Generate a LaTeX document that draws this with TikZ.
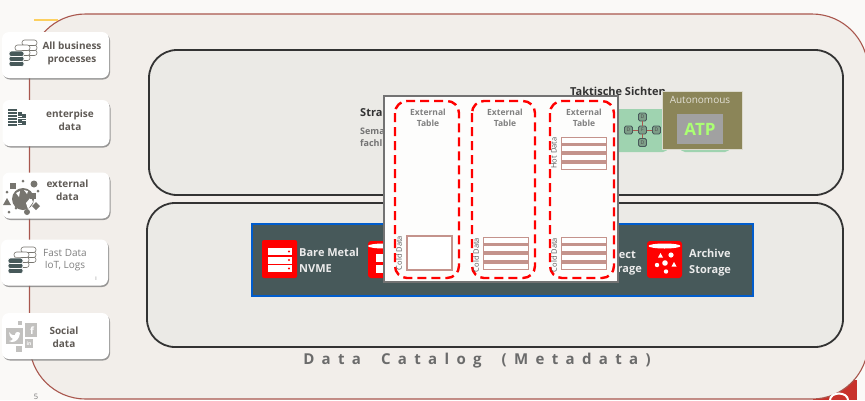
\documentclass[tikz,border=0pt]{standalone}
\usepackage{xcolor}
\usepackage{fontspec}
\setmainfont{Open Sans}
\newfontfamily\catalogfont[LetterSpace=49]{Open Sans}
\usetikzlibrary{shadows}
\definecolor{pageBg}{HTML}{FAF9F7}
\definecolor{frameBg}{HTML}{F2EEEA}
\definecolor{frameLine}{HTML}{A9574E}
\definecolor{panelBg}{HTML}{EBEAE6}
\definecolor{slate}{HTML}{47595A}
\definecolor{stackLine}{HTML}{C4938C}
\definecolor{cardText}{HTML}{5F5A55}
\definecolor{iconGray}{HTML}{77756F}
\definecolor{socialGray}{HTML}{C2C1BF}
\definecolor{dimGreen}{HTML}{9FD3B0}
\definecolor{olive}{HTML}{8B8558}
\definecolor{logoRed}{HTML}{C8322B}
\definecolor{barYellow}{HTML}{FCD060}
% one database icon, three cylinders back to front
\newcommand{\dbcyl}[4]{
  \foreach \k in {2,1,0}
    \draw[fill=#3, draw=#4, line width=.6pt, rounded corners=2.5pt]
      (#1,#2+\k*5) rectangle ++(15,5.5);
}
\newcommand{\dbicon}[2]{
  \dbcyl{#1+13}{#2-11}{white}{iconGray}
  \dbcyl{#1+6}{#2-6}{white}{iconGray}
  \dbcyl{#1}{#2}{slate}{white}
}
% four table rows on a filled block
\newcommand{\tablerows}[2]{
  \fill[stackLine] (#1,#2) rectangle ++(46,33.5);
  \foreach \k in {0,1,2,3}
    \draw[stackLine, fill=white, line width=.6pt] (#1+.5,#2+.5+\k*8.7) rectangle ++(45,6);
}
\begin{document}
\begin{tikzpicture}[x=1pt,y=-1pt]
  \tikzstyle{card}=[draw=none, fill=white, rounded corners=7pt, minimum width=107pt, minimum height=46pt,
    drop shadow={shadow xshift=1pt, shadow yshift=-1.5pt, fill=black!55, opacity=.7}]
  \tikzstyle{cardtext}=[align=center, font=\fontsize{10}{13}\selectfont\bfseries, text=cardText, inner sep=0pt]
  \tikzstyle{panel}=[draw=black!80, line width=1.8pt, fill=panelBg, rounded corners=28pt]
  \tikzstyle{dashbox}=[draw=red, line width=2.4pt, rounded corners=12pt, dash pattern=on 9pt off 5pt]
  \tikzstyle{tabletext}=[align=center, font=\fontsize{8.5}{10.5}\selectfont\bfseries, text=black!50, inner sep=0pt]
  \tikzstyle{sidetext}=[rotate=90, font=\fontsize{7.5}{9}\selectfont, text=black!65, inner sep=0pt]
  \tikzstyle{storetext}=[anchor=west, align=left, font=\fontsize{11}{16.5}\selectfont\bfseries, text=white!92!black, inner sep=0pt]
  \tikzstyle{dim}=[draw=slate, fill=dimGreen!70!black!90, rounded corners=1.5pt, line width=.8pt, minimum size=8pt, inner sep=0pt, font=\fontsize{5}{5}\selectfont, text=black!70]
  \clip (0,0) rectangle (865,400);
  \fill[pageBg] (0,0) rectangle (865,400);
  \fill[logoRed] (813,380) rectangle (857,400);
  \draw[frameLine, line width=1.1pt, fill=frameBg, rounded corners=56pt] (29.5,14) rectangle (868,399);
  \draw[white, line width=2pt] (839,400) ellipse (9 and 6.5);
  \fill[barYellow] (34,18.5) rectangle (58,21);

  % left column
  \node (cardAll) [card] at (55.5,55) {};
  \node (cardEnterprise) [card] at (56,123) {};
  \node (cardExternal) [card] at (56,195.5) {};
  \node (cardFast) [card] at (54.5,262.5) {};
  \node (cardSocial) [card] at (55.5,336) {};
  \node (textAll) [cardtext] at (72,53.5) {All business\\processes};
  \node (textEnterprise) [cardtext] at (70,120) {enterpise\\data};
  \node (textExternal) [cardtext] at (67.5,190.5) {external\\data};
  \node (textFast) [cardtext, font=\fontsize{10}{12.5}\selectfont, text=black!50] at (65,260) {Fast Data\\IoT, Logs};
  \node (textSocial) [cardtext] at (64,337) {Social\\data};
  \node (tickFast) [font=\fontsize{5}{5}\selectfont, text=black!50, inner sep=0pt] at (96,279) {I};
  \node (pageNo) [font=\fontsize{7.5}{8}\selectfont, text=black!55, inner sep=0pt] at (36,397) {5};
  \dbicon{9}{51}
  \dbicon{8}{258}
  % bar icon of card 2
  \foreach \k in {0,...,5} \fill[slate] (8,109+\k*3) rectangle ++(9,2.2);
  \foreach \k in {0,...,5} \fill[slate] (17.5,112+\k*2.3) rectangle ++(4,1.7);
  \foreach \k in {0,...,4} \fill[slate] (22,114+\k*2.3) rectangle ++(4,1.7);
  % world icon of card 3
  \fill[iconGray] (23,199) circle (11);
  \fill[white] (16,193) -- (20,191) -- (19,197) -- cycle;
  \fill[white] (26,203) -- (31,197) -- (33,202) -- (28,209) -- cycle;
  \fill[white] (24,190) -- (28,191) -- (27,194) -- cycle;
  \fill[iconGray] (10,183) rectangle ++(6,6);
  \fill[iconGray] (30,193) rectangle ++(6,6);
  \fill[iconGray] (34,184) circle (3.5);
  \fill[iconGray] (27,212) circle (3);
  \foreach \px/\py in {23/181,7/192,38/191,16/208,9/212} \fill[iconGray] (\px,\py) circle (1.5);
  \fill[iconGray] (7,198) -- (11,205) -- (3,205) -- cycle;
  \fill[iconGray] (36,202) -- (40,206) -- (36,210) -- (32,206) -- cycle;
  % social icon of card 5
  \fill[socialGray] (6,328) rectangle (23,344);
  \fill[socialGray] (18,321) rectangle ++(4,4);
  \fill[socialGray] (16,346) rectangle ++(6,6);
  \fill[socialGray] (25,323) rectangle (37,337);
  \fill[socialGray] (25,339) rectangle (33,348);
  \fill[white] (9,332) .. controls (12,336) and (14,335) .. (15,335) .. controls (15,332) and (18,331) .. (20,333) -- (19,337) .. controls (17,342) and (12,343) .. (9,341) .. controls (11,341) and (12,340) .. (13,339) .. controls (10,337) and (9,335) .. (9,332) -- cycle;
  \node (iconF) [text=white, font=\fontsize{10}{10}\selectfont\bfseries, inner sep=0pt] at (32,331) {f};
  \node (iconIn) [text=white, font=\fontsize{5}{5}\selectfont\bfseries, inner sep=0pt] at (29,343.5) {in};

  % upper panel
  \draw[panel] (149,50) rectangle (843,195);
  \node (strategic) [anchor=west, font=\fontsize{11}{11}\selectfont\bfseries, text=black!80, inner sep=0pt] at (360,113) {Stra};
  \node (semantic) [anchor=west, align=left, font=\fontsize{9}{11.5}\selectfont\bfseries, text=black!55, inner sep=0pt] at (360,137.5) {Sema\\fachl};
  \node (tactical) [anchor=west, font=\fontsize{11}{11}\selectfont\bfseries, text=black!80, inner sep=0pt] at (570,91) {Taktische Sichten};
  \fill[dimGreen, rounded corners=5pt] (610,109) rectangle (668,152);
  \fill[dimGreen, rounded corners=5pt] (680,130) rectangle (730,152);
  \node (dimF) [dim] at (642.5,130) {F};
  \node (dimN) [dim] at (642.5,117) {D};
  \node (dimW) [dim] at (628.5,130) {D};
  \node (dimE) [dim] at (656.5,130) {D};
  \node (dimS) [dim] at (642.5,142.5) {D};
  \foreach \d in {dimN,dimW,dimE,dimS} \draw[frameLine, line width=.7pt] (dimF) -- (\d);
  \fill[olive] (662,91) rectangle (742,149);
  \draw[white!70!olive, line width=.7pt] (662,91) rectangle (742,149);
  \node (autonomous) [font=\fontsize{10}{10}\selectfont, text=white!75!olive, inner sep=0pt] at (700,100) {Autonomous};
  \fill[black!37!white] (677,114) rectangle (723,144);
  \node (atp) [font=\fontsize{17}{17}\selectfont\bfseries, text=green!60!yellow!55!white, inner sep=0pt] at (700,129) {ATP};

  % lower panel
  \draw[panel] (147,203) rectangle (843,347);
  \draw[fill=slate, draw=blue!55!cyan!80!black, line width=1.8pt] (252,224) rectangle (753,296);
  \fill[red, rounded corners=2pt] (262,240) rectangle (297,278);
  \foreach \k in {0,1,2} {
    \fill[white] (268,248+\k*8.5) rectangle ++(24,7);
    \fill[red] (289,251.5+\k*8.5) circle (1.2);
  }
  \node (bareMetal) [storetext] at (299,260.5) {Bare Metal\\NVME};
  \fill[red, rounded corners=3pt] (368,241) rectangle (400,278);
  \fill[white] (384,246) ellipse (16 and 2.5);
  \fill[white] (376,254) rectangle (400,262);
  \fill[white] (376,265) rectangle (400,273);
  \node (objectTop) [storetext, anchor=east] at (636,254.5) {ect};
  \node (objectBottom) [storetext, anchor=east] at (642,271) {rage};
  \fill[red, rounded corners=3pt] (647,241) rectangle (682,278);
  \fill[white] (664.5,246) ellipse (16 and 2.5);
  \fill[white] (660.5,253) -- (663,257.5) -- (658,257.5) -- cycle;
  \fill[white] (671,255) circle (2.6);
  \fill[white] (657,265) circle (2.2);
  \fill[white] (665,263) circle (2.8);
  \fill[white] (674,262) -- (676.5,266.5) -- (671.5,266.5) -- cycle;
  \fill[white] (666,271.5) circle (2.2);
  \node (archive) [storetext] at (689,262.5) {Archive\\Storage};
  \node (catalog) [font=\catalogfont\fontsize{15}{15}\selectfont\bfseries, text=black!58, inner sep=0pt] at (477,361) {Data\hspace{20pt}Catalog\hspace{20pt}(Metadata)};

  % popup with the three tables
  \node (popup) [draw=black!55, line width=1.4pt, fill=white!60!pageBg, minimum width=234pt, minimum height=186pt, inner sep=0pt] at (501,189) {};
  \draw[dashbox] (395,101) rectangle (459,278);
  \draw[dashbox] (472,101) rectangle (535,278);
  \draw[dashbox] (550,101) rectangle (614,278);
  \node (tableA) [tabletext] at (428,118) {External\\Table};
  \node (tableB) [tabletext] at (505,118) {External\\Table};
  \node (tableC) [tabletext] at (584,118) {External\\Table};
  \draw[stackLine, line width=1.2pt, fill=white] (407,236) rectangle (452,270);
  \tablerows{483}{236.5}
  \tablerows{561}{236.5}
  \tablerows{561}{136.5}
  \node (coldA) [sidetext] at (399,253) {Cold Data};
  \node (coldB) [sidetext] at (476,255) {Cold Data};
  \node (coldC) [sidetext] at (554,255) {Cold Data};
  \node (hotC) [sidetext] at (554,153) {Hot Data};
\end{tikzpicture}
\end{document}
